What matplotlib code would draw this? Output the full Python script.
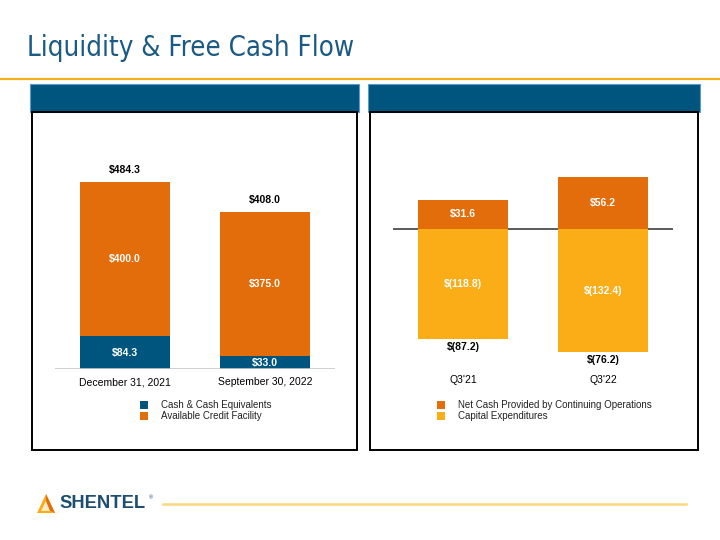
import matplotlib.pyplot as plt
from matplotlib.patches import Rectangle, Polygon

# data
liq_cats = ['December 31, 2021', 'September 30, 2022']
cash = [84.3, 33.0]
credit = [400.0, 375.0]

fcf_cats = ["Q3'21", "Q3'22"]
ops_cash = [31.6, 56.2]
capex = [-118.8, -132.4]

BLUE = '#00557f'
ORANGE = '#e36c0b'
GOLD = '#fbad18'
TITLE = '#1b5a84'

W, H = 720, 540
fig = plt.figure(figsize=(7.2, 5.4), dpi=100)
plt.rcParams['font.family'] = ['Liberation Sans', 'DejaVu Sans']


def fx(x):
    return x / W


def fy(y):
    return 1 - y / H


def rect(x0, y0, x1, y1, **kw):
    fig.add_artist(Rectangle((fx(x0), fy(y1)), fx(x1 - x0), (y1 - y0) / H,
                             transform=fig.transFigure, **kw))


# title + rule
fig.text(fx(27), fy(48), 'Liquidity & Free Cash Flow', color=TITLE, fontsize=19.8,
         family='DejaVu Sans', fontstretch='condensed', va='center', ha='left')
fig.add_artist(plt.Line2D([0, 1], [fy(79), fy(79)], color='#f6b01c', lw=1.6,
                          transform=fig.transFigure))

# panels
for x0, x1 in [(30, 359), (368, 700)]:
    rect(x0, 84, x1, 112, facecolor=BLUE, edgecolor='#5b9bc8', lw=0.8)
    rect(x0 + 2, 112, x1 - 2, 450, facecolor='none', edgecolor='black', lw=1.4)

# ---- left chart: liquidity
axL = fig.add_axes([fx(55), fy(369), fx(280), (369 - 150) / H])
axL.bar(range(2), cash, width=0.64, color=BLUE)
axL.bar(range(2), credit, width=0.64, bottom=cash, color=ORANGE)
axL.set_xlim(-0.5, 1.5)
axL.set_ylim(0, 219 / 0.386)
axL.axis('off')
axL.axhline(0, color='#c8c8c8', lw=1.2)
for i in range(2):
    tot = cash[i] + credit[i]
    axL.text(i, cash[i] / 2, f'${cash[i]:.1f}', color='white', weight='bold',
             fontsize=7.5, ha='center', va='center')
    axL.text(i, cash[i] + credit[i] / 2, f'${credit[i]:.1f}', color='white',
             weight='bold', fontsize=7.5, ha='center', va='center')
    axL.annotate(f'${tot:.1f}', (i, tot), xytext=(0, 5), textcoords='offset points',
                 ha='center', va='bottom', weight='bold', fontsize=7.5)
    axL.annotate(liq_cats[i], (i, 0), xytext=(0, -6), textcoords='offset points',
                 ha='center', va='top', fontsize=7.5)

# ---- right chart: free cash flow
axR = fig.add_axes([fx(393), fy(370), fx(280), (370 - 150) / H])
axR.bar(range(2), ops_cash, width=0.64, color=ORANGE)
axR.bar(range(2), capex, width=0.64, color=GOLD)
axR.set_xlim(-0.5, 1.5)
axR.set_ylim(-141 / 0.93, 79 / 0.93)
axR.axis('off')
axR.axhline(0, color='#404040', lw=1.2, zorder=0)
for i in range(2):
    net = ops_cash[i] + capex[i]
    axR.text(i, ops_cash[i] / 2, f'${ops_cash[i]:.1f}', color='white', weight='bold',
             fontsize=7.5, ha='center', va='center')
    axR.text(i, capex[i] / 2, f'$({-capex[i]:.1f})', color='white', weight='bold',
             fontsize=7.5, ha='center', va='center')
    axR.annotate(f'$({-net:.1f})', (i, capex[i]), xytext=(0, -2), textcoords='offset points',
                 ha='center', va='top', weight='bold', fontsize=7.5)
    axR.annotate(fcf_cats[i], (i, 0), xytext=(0, -108.5), textcoords='offset points',
                 ha='center', va='center', fontsize=7.5)

# legends
def legend_rows(xsq, items):
    for k, (lab, col) in enumerate(items):
        yc = 405 + k * 11
        rect(xsq, yc - 4, xsq + 8, yc + 4, facecolor=col, edgecolor='none')
        fig.text(fx(xsq + 21), fy(yc), lab, fontsize=7, color='#222222',
                 va='center', ha='left')


legend_rows(140, [('Cash & Cash Equivalents', BLUE), ('Available Credit Facility', ORANGE)])
legend_rows(437, [('Net Cash Provided by Continuing Operations', ORANGE),
                  ('Capital Expenditures', GOLD)])

# footer
fig.add_artist(plt.Line2D([fx(163), fx(686)], [fy(504), fy(504)], color='#fcd67a', lw=1.8,
                          transform=fig.transFigure))
fig.add_artist(Polygon([(fx(37), fy(513)), (fx(46), fy(494)), (fx(55), fy(513))],
                       closed=True, facecolor=GOLD, edgecolor='none', transform=fig.transFigure))
fig.add_artist(Polygon([(fx(46), fy(494)), (fx(55), fy(513)), (fx(46), fy(509))],
                       closed=True, facecolor=ORANGE, edgecolor='none', transform=fig.transFigure))
fig.add_artist(Polygon([(fx(41), fy(511)), (fx(46), fy(501)), (fx(50), fy(511))],
                       closed=True, facecolor='#fde9c4', edgecolor='none', transform=fig.transFigure))
fig.text(fx(59), fy(504), 'SHENTEL', fontsize=13.2, weight='bold', color='#1d4e70',
         va='center', ha='left')
fig.text(fx(149), fy(498), '®', fontsize=4, color='#1d4e70', va='center', ha='left')

fig.savefig('out.png', dpi=100)
